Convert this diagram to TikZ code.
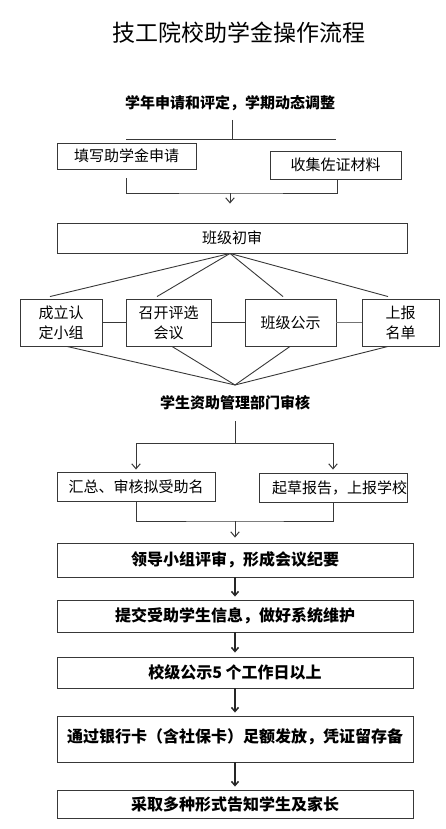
\documentclass[tikz,border=0pt]{standalone}
\usepackage{fontspec}
\setmainfont{Noto Sans CJK SC}
\usetikzlibrary{arrows.meta}
\begin{document}
\begin{tikzpicture}[x=1pt,y=-1pt,
  ln/.style={draw=black!78,line width=0.9pt},
  box/.style={ln,rectangle,inner sep=0pt,align=center,font=\fontsize{15}{20}\selectfont},
  bbox/.style={box,minimum width=356,font=\fontsize{16}{20}\selectfont\bfseries},
  arr/.style={ln,line width=1pt,-{Straight Barb[length=5pt,width=8.5pt]}},
  barr/.style={draw=black!85,line width=1.5pt,-{Straight Barb[length=4pt,width=7pt]}},
  lbl/.style={inner sep=0pt,font=\fontsize{15}{18}\selectfont\bfseries}]
\useasboundingbox (0,0) rectangle (446,829);
\node[inner sep=0pt,font=\fontsize{23}{26}\selectfont] (title) at (239,33) {技工院校助学金操作流程};

% stage 1
\node[lbl] (t1) at (230,103) {学年申请和评定，学期动态调整};
\coordinate (j1) at (232,139);
\draw[ln] ([shift={(2,9)}]t1.south) -- (j1);
\coordinate (h1l) at (126,139);
\coordinate (h1r) at (336,139);
\draw[ln] (h1l) -- (h1r);
\node[box,minimum width=139,minimum height=26] (b1) at (126.5,156) {填写助学金申请};
\node[box,minimum width=131,minimum height=28] (b2) at (335.5,165) {\raisebox{-2pt}{收集佐证材料}};
\coordinate (m1) at (230,193);
\draw[ln] ([yshift=-9]b1.south) |- (m1) -| ([xshift=1.5]b2.south);
\node[box,minimum width=350,minimum height=30] (b3) at (232,238) {\raisebox{-3pt}{班级初审}};
\draw[arr] (m1) -- ([yshift=19]b3.north -| m1);

% four boxes
\node[box,minimum width=82,minimum height=47] (s1) at (61,322.5) {成立认\\定小组};
\node[box,minimum width=85,minimum height=47] (s2) at (168.5,322.5) {召开评选\\会议};
\node[box,minimum width=91,minimum height=47] (s3) at (290.5,322.5) {班级公示};
\node[box,minimum width=77,minimum height=47] (s4) at (400.5,322.5) {上报\\名单};
\draw[ln] (s1) -- (s2);
\draw[ln] (s2) -- (s3);
\draw[ln,draw=black!55] (s3) -- (s4);
\coordinate (ap1) at ([xshift=-2]b3.south);
\draw[ln] (ap1) -- ([shift={(-11,-2)}]s1.north);
\draw[ln] (ap1) -- ([shift={(-11.5,-2)}]s2.north);
\draw[ln] (ap1) -- ([shift={(-7.5,-2)}]s3.north);
\draw[ln] (ap1) -- ([shift={(-12.5,-2)}]s4.north);
\coordinate (ap2) at (235,385);
\draw[ln] ([xshift=6]s1.south) -- (ap2);
\draw[ln] ([xshift=3.5]s2.south) -- (ap2);
\draw[ln] ([xshift=-0.5]s3.south) -- (ap2);
\draw[ln] ([xshift=-12.5]s4.south) -- (ap2);

% stage 3
\node[lbl] (t2) at (235,403) {学生资助管理部门审核};
\coordinate (j2) at (235,443);
\draw[ln] ([yshift=-11]t2.south) -- (j2);
\node[box,minimum width=158,minimum height=29] (b4) at (136,486.5) {\raisebox{-1pt}{汇总、审核拟受助名}};
\node[box,minimum width=148,minimum height=29,text width=148,align=right] (b5) at (333,487.5) {\raisebox{-2pt}{起草报告，上报学校}};
\draw[ln] (b4.north |- j2) -- (b5.north |- j2);
\draw[arr] (b4.north |- j2) -- ([yshift=2]b4.north);
\draw[arr] (b5.north |- j2) -- ([yshift=3]b5.north);
\coordinate (m2) at (235,521);
\draw[ln] (b4.south) |- (m2) -| (b5.south);

% stage 4
\node[bbox,minimum height=34] (b6) at (235,560) {领导小组评审，形成会议纪要};
\draw[arr] (m2) -- ([yshift=5]b6.north -| m2);
\node[bbox,minimum height=32] (b7) at (235,616) {提交受助学生信息，做好系统维护};
\node[bbox,minimum height=31] (b8) at (235,672.5) {校级公示5 个工作日以上};
\node[bbox,minimum height=46] (b9) at (235,739) {\raisebox{6pt}{通过银行卡（含社保卡）足额发放，凭证留存备}};
\node[bbox,minimum height=28] (b10) at (235,804) {采取多种形式告知学生及家长};
\draw[barr] (b6) -- ([yshift=3]b7.north);
\draw[barr] (b7) -- ([yshift=4]b8.north);
\draw[barr] (b8) -- ([yshift=3]b9.north);
\draw[barr] (b9) -- ([yshift=3]b10.north);
\end{tikzpicture}
\end{document}
